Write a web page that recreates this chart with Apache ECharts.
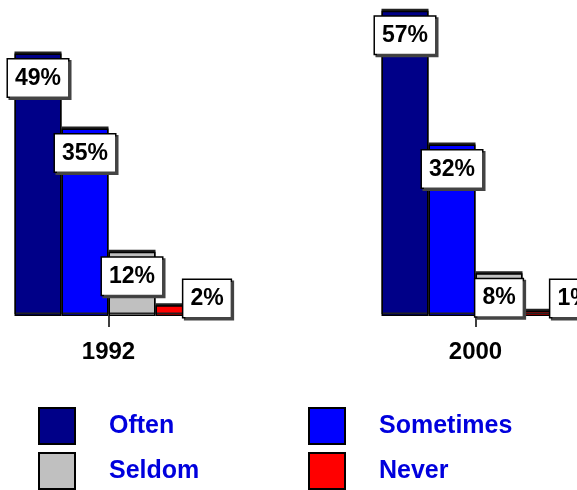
<!DOCTYPE html>
<html>
<head>
<meta charset="utf-8">
<script src="https://cdn.jsdelivr.net/npm/echarts@6/dist/echarts.min.js"></script>
<style>
    html, body {margin: 0; padding: 0; background: #fff;}
    #chart {width: 577px; height: 490px;}
</style>
</head>
<body>
<div id="chart"></div>
<script>
var years = ['1992', '2000'];
var names = ['Often', 'Sometimes', 'Seldom', 'Never'];
var often = [49, 57];
var sometimes = [35, 32];
var seldom = [12, 8];
var never = [2, 1];
var values = [often, sometimes, seldom, never];
var colors = ['#000088', '#0000ff', '#c0c0c0', '#ff0000'];

var font = '"Liberation Sans", Arial, sans-serif';

// white box with a hard shadow, like the old chart
var boxLabel = {
    show: true,
    position: 'insideTop',
    distance: 6,
    formatter: '{c}%',
    color: '#000',
    fontFamily: font,
    fontWeight: 'bold',
    fontSize: 23,
    lineHeight: 24,
    backgroundColor: '#fff',
    borderColor: '#000',
    borderWidth: 1.5,
    padding: [7, 7, 6, 7],
    shadowColor: '#444',
    shadowBlur: 0,
    shadowOffsetX: 2,
    shadowOffsetY: 2
};

var legendPos = [[38, 407], [308, 407], [38, 452], [308, 452]];

var series = [];
var legends = [];
for (var i = 0; i < names.length; i++) {
    var label = echarts.util.clone(boxLabel);
    if (names[i] == 'Never') {      // tiny bar: box sits beside it on the base line
        label.position = 'insideBottom';
        label.offset = [28, 7];
    }
    series.push({
        name: names[i],
        type: 'bar',
        barWidth: 47,
        barGap: '0%',
        itemStyle: {
            color: colors[i],
            borderColor: '#000',
            borderWidth: 1.5,
            shadowColor: '#222',   // thick top edge of the old 3d look
            shadowBlur: 0,
            shadowOffsetY: -2
        },
        label: label,
        data: values[i]
    });
    legends.push({
        data: [names[i]],
        left: legendPos[i][0],
        top: legendPos[i][1],
        padding: 0,
        itemWidth: 36,
        itemHeight: 36,
        icon: 'rect',
        selectedMode: false,
        itemStyle: {borderColor: '#000', borderWidth: 2, shadowBlur: 0, shadowOffsetY: 0, shadowColor: 'transparent'},
        textStyle: {
            color: '#0000dd',
            fontFamily: font,
            fontWeight: 'bold',
            fontSize: 25,
            padding: [0, 0, 0, 29]
        }
    });
}

var option = {
    animation: false,
    legend: legends,
    grid: {
        left: -75,
        right: -82,
        top: 0,
        bottom: 174,
        outerBoundsMode: 'none'
    },
    xAxis: {
        type: 'category',
        data: years,
        axisLine: {show: false},
        axisTick: {
            show: true,
            alignWithLabel: true,
            length: 11,
            lineStyle: {color: '#000', width: 1.5}
        },
        axisLabel: {
            margin: 24,
            color: '#000',
            fontFamily: font,
            fontWeight: 'bold',
            fontSize: 24
        }
    },
    yAxis: {
        type: 'value',
        min: 0,
        max: 59,
        show: false,
        splitLine: {show: false}
    },
    series: series
};

var chart = echarts.init(document.getElementById('chart'));
chart.setOption(option);
</script>
</body>
</html>
